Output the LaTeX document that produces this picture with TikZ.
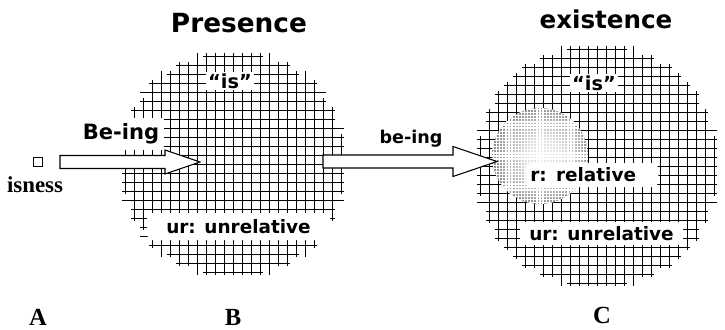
\documentclass[tikz,border=0pt]{standalone}
\usepackage{fontspec}
\setmainfont{Liberation Serif}
\setsansfont{DejaVu Sans}
\usetikzlibrary{calc, positioning}
\tikzstyle{gridline} = [black, line width=0.5pt]
\tikzstyle{fatarr} = [draw=black, fill=white, line width=0.6pt, line join=miter]
\tikzstyle{whitebox} = [fill=white, rounded corners=3pt, inner sep=0pt, font=\sffamily\bfseries\fontsize{10.5}{12}\selectfont]
\tikzstyle{title} = [anchor=base, font=\sffamily\bfseries]
\tikzstyle{letter} = [anchor=base, font=\bfseries\fontsize{14}{16}\selectfont]
\pgfdeclareradialshading{ringshade}{\pgfpoint{3bp}{0bp}}{color(0bp)=(gray!15); color(9bp)=(gray!25); color(19bp)=(gray!60); color(25bp)=(gray!85); color(50bp)=(gray!85)}
\newcommand{\gridstep}{9}
% hatched disc: centre x, centre y, radius (pixels)
\newcommand{\hatchdisk}[3]{%
  \foreach \k in {-14,...,14}{
    \pgfmathsetmacro{\dd}{\k*\gridstep}
    \pgfmathsetmacro{\hh}{round(10*sqrt(max((#3/10)^2-(\dd/10)^2,0))/\gridstep)*\gridstep}
    \ifdim\hh pt>4pt
      \draw[gridline] (#1+\dd,#2-\hh-3) -- (#1+\dd,#2+\hh+3);
      \draw[gridline] (#1-\hh-3,#2+\dd) -- (#1+\hh+3,#2+\dd);
    \fi
  }}
% tail, tip, shaft half-height, head half-height, head length
\newcommand{\fatarrow}[5]{%
  \draw[fatarr] ($(#1)+(0,-#3)$) -- ($(#2)+(-#5,-#3)$) -- ($(#2)+(-#5,-#4)$) -- (#2)
    -- ($(#2)+(-#5,#4)$) -- ($(#2)+(-#5,#3)$) -- ($(#1)+(0,#3)$) -- cycle;}

\begin{document}
\begin{tikzpicture}[x=0.02cm, y=-0.02cm]
\useasboundingbox (0,0) rectangle (725,329);

% the two hatched discs
\hatchdisk{233}{164}{112}
\hatchdisk{597}{166}{120}

% relative part inside existence
\begin{scope}
\clip (540,156) circle (48);
\shade[shading=ringshade] (540,156) circle (48);
\foreach \k in {-16,...,16}{
  \draw[white, line width=0.7pt] (540+\k*3.1,105) -- (540+\k*3.1,207);
  \draw[white, line width=0.7pt] (489,156+\k*3.1) -- (591,156+\k*3.1);
}
\end{scope}

\node[draw, line width=0.6pt, minimum size=0.18cm, inner sep=0pt] (sq) at (38,162) {};
\node[anchor=base, font=\bfseries\fontsize{13}{15}\selectfont] (isness) at (35,192) {isness};

\coordinate (tailA) at (60,162);
\coordinate (tipB) at (200,162);
\coordinate (tailB) at (323,161.5);
\coordinate (tipC) at (497,161.5);
\fatarrow{tailA}{tipB}{6.5}{12}{35}
\fatarrow{tailB}{tipC}{6.5}{15}{44}

\node[title, font=\sffamily\bfseries\fontsize{15}{18}\selectfont] (presence) at (239,32) {Presence};
\node[title, font=\sffamily\bfseries\fontsize{14}{17}\selectfont] (existence) at (606,28) {existence};

\node[title, fill=white, inner sep=1pt, font=\sffamily\bfseries\fontsize{11}{13}\selectfont] (isB) at (230,88) {“is”};
\node[title, fill=white, inner sep=1pt, font=\sffamily\bfseries\fontsize{11}{13}\selectfont] (isC) at (594,90) {“is”};

\node[fill=white, inner sep=3pt, font=\sffamily\bfseries\fontsize{12}{14}\selectfont] (being) at (121,134) {Be-ing};
\node[title, font=\sffamily\bfseries\fontsize{10}{12}\selectfont] (being2) at (411,143) {be-ing};

\node[whitebox, minimum width=3.66cm, minimum height=0.54cm] (urB) at (238.5,226.5) {ur: unrelative};
\node[whitebox, minimum width=3.26cm, minimum height=0.46cm] (urC) at (601.5,233.5) {ur: unrelative};
\node[whitebox, anchor=west, text width=2.46cm, inner xsep=0.1cm, minimum height=0.48cm, align=left] (rel) at (525,175) {r: relative};

\node[letter] (A) at (38,325) {A};
\node[letter] (B) at (233,325) {B};
\node[letter] (C) at (602,323) {C};
\end{tikzpicture}
\end{document}
